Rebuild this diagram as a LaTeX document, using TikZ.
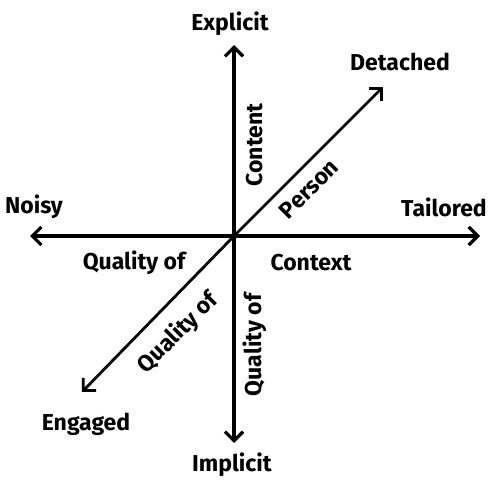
\documentclass[tikz,border=0pt]{standalone}
\usepackage{fontspec}
\setmainfont{Fira Sans}
\usetikzlibrary{arrows.meta}
\begin{document}
\begin{tikzpicture}[x=1pt,y=-1pt,
  axis/.style={line width=3.6pt,-{Straight Barb[length=9pt,width=18pt,line width=3.2pt]}},
  diag/.style={line width=2.8pt,-{Straight Barb[length=9pt,width=18pt,line width=2.8pt]}},
  lbl/.style={font=\fontsize{23}{23}\selectfont\bfseries,inner sep=0pt}]
\useasboundingbox (0,0) rectangle (490,481);
\coordinate (O) at (234,236);
\coordinate (T) at (234,45);
\coordinate (B) at (234,443);
\coordinate (L) at (30,236);
\coordinate (R) at (480,236);
\coordinate (UR) at (383,87);
\coordinate (LL) at (82,392);
\draw[axis] (O) -- (T);
\draw[axis] (O) -- (B);
\draw[axis] (O) -- (L);
\draw[axis] (O) -- (R);
\draw[diag] (O) -- (UR);
\draw[diag] (O) -- (LL);
\node[lbl] (explicit) at (230,24) {Explicit};
\node[lbl] (implicit) at (232,465) {Implicit};
\node[lbl] (noisy) at (34,207) {Noisy};
\node[lbl] (tailored) at (444,207) {Tailored};
\node[lbl] (detached) at (400,62) {Detached};
\node[lbl] (engaged) at (86,424) {Engaged};
\node[lbl,rotate=90] (content) at (255,145) {Content};
\node[lbl,rotate=45] (person) at (309,189) {Person};
\node[lbl] (q1) at (134,263) {Quality of};
\node[lbl] (context) at (311,263) {Context};
\node[lbl,rotate=45] (q2) at (178,333) {Quality of};
\node[lbl,rotate=90] (q3) at (255,345) {Quality of};
\end{tikzpicture}
\end{document}
